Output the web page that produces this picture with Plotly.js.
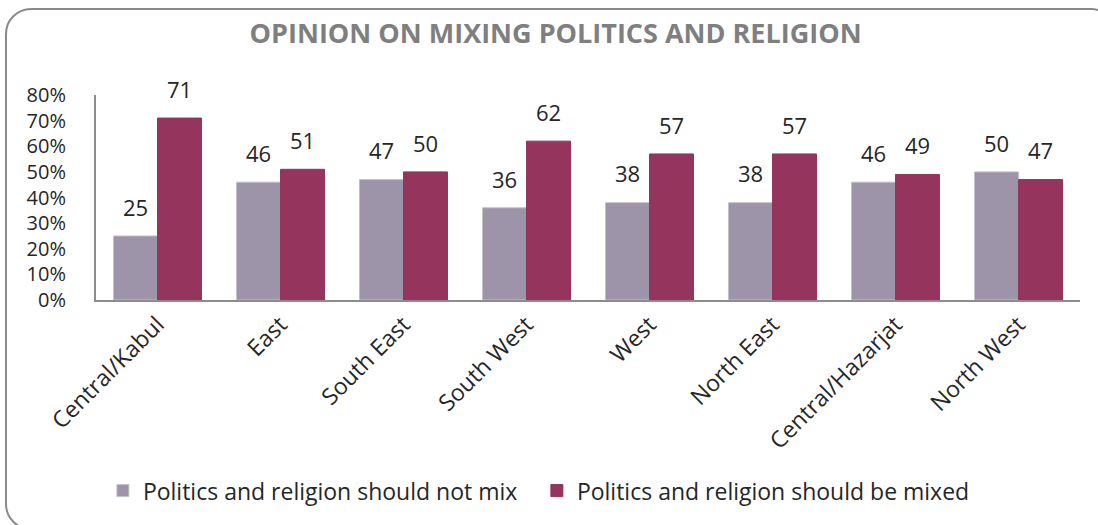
<!DOCTYPE html>
<html>
<head>
<meta charset="utf-8">
<script src="https://cdn.plot.ly/plotly-3.0.1.min.js"></script>
<style>
html,body{margin:0;padding:0;background:#fff;overflow:hidden;}
#wrap{position:relative;width:1098px;height:525px;overflow:hidden;}
#chart{position:absolute;left:0;top:0;width:1098px;height:525px;}
#frame{position:absolute;left:5px;top:8px;width:1112px;height:522px;border:2px solid #8a8a8a;border-radius:26px;pointer-events:none;box-sizing:border-box;}
</style>
</head>
<body>
<div id="wrap"><div id="chart"></div><div id="frame"></div></div>
<script>
const regions = ["Central/Kabul","East","South East","South West","West","North East","Central/Hazarjat","North West"];
const notMix = [25,46,47,36,38,38,46,50];
const mixed = [71,51,50,62,57,57,49,47];
const seriesNames = ["Politics and religion should not mix","Politics and religion should be mixed"];
const seriesColors = ["#9d94a9","#95345c"];

const baseFont = "Open Sans, Liberation Sans, sans-serif";
const labelFont = {family:baseFont, size:22, color:"#262626"};
const series = [notMix, mixed];
const traces = [];
series.forEach((vals, i) => {
  traces.push({type:"bar", x:regions, y:vals, name:seriesNames[i], offsetgroup:String(i),
    marker:{color:seriesColors[i], line:{color:i===0?"#c4c0c9":seriesColors[i], width:1}}, hoverinfo:"none"});
});
series.forEach((vals, i) => {
  traces.push({type:"scatter", mode:"markers+text", x:regions, y:vals, offsetgroup:String(i),
    text:vals.map(String), textposition:"top center", textfont:labelFont,
    marker:{size:22, color:"rgba(0,0,0,0)"}, showlegend:false, hoverinfo:"none", cliponaxis:false});
});
const layout = {
  width:1098, height:525,
  margin:{l:96, r:18, t:95, b:223},
  paper_bgcolor:"rgba(0,0,0,0)", plot_bgcolor:"rgba(0,0,0,0)",
  title:{text:"<b>OPINION ON MIXING POLITICS AND RELIGION</b>", x:0.506, xanchor:"center", y:0.937, yanchor:"middle",
    font:{family:baseFont, size:27, color:"#7f7f7f"}},
  barmode:"group", bargap:0.285, bargroupgap:0,
  scattermode:"group", scattergap:0.285,
  xaxis:{showline:true, linecolor:"#8c8c8c", linewidth:2, ticks:"", tickangle:-45,
    tickfont:{family:baseFont, size:23, color:"#262626"}, showgrid:false, zeroline:false},
  yaxis:{range:[0,80], dtick:10, ticksuffix:"%", showline:true, linecolor:"#8c8c8c", linewidth:2, ticks:"",
    showgrid:false, zeroline:false, ticklabelstandoff:24,
    tickfont:{family:baseFont, size:20, color:"#262626"}},
  showlegend:true,
  legend:{orientation:"h", x:0.007, xanchor:"left", y:-0.93, yanchor:"middle",
    entrywidth:389, entrywidthmode:"pixels", traceorder:"normal",
    font:{family:baseFont, size:23, color:"#262626"}}
};
Plotly.newPlot("chart", traces, layout, {displayModeBar:false, staticPlot:true});
</script>
</body>
</html>
